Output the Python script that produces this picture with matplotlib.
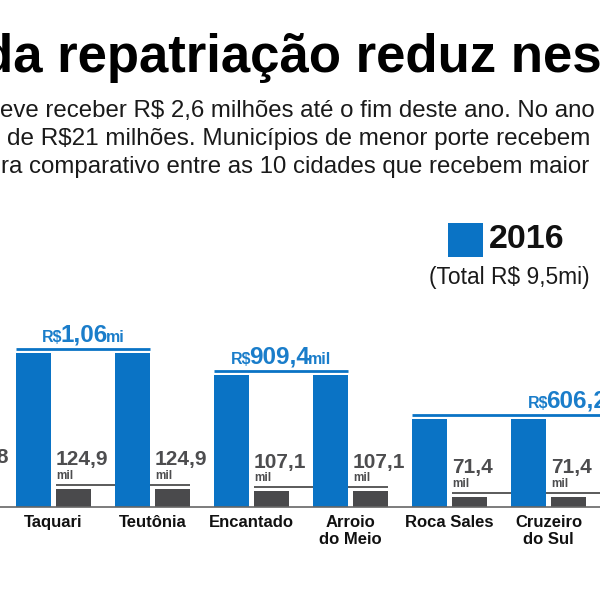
import matplotlib
matplotlib.use("Agg")
import matplotlib.pyplot as plt
from matplotlib.transforms import IdentityTransform
from matplotlib.patches import Rectangle
import numpy as np

plt.rcParams['font.family'] = ['Liberation Sans', 'DejaVu Sans']

# ---------------- data ----------------
cities = ["", "Taquari", "Teutônia", "Encantado", "Arroio\ndo Meio",
          "Roca Sales", "Cruzeiro\ndo Sul", "", ""]
city_pos = [-1, 0, 1, 2, 3, 4, 5, 6, 7]
values_2016 = [1212.0, 1060.0, 1060.0, 909.4, 909.4, 606.2, 606.2, 606.2, 606.2]   # R$ mil
values_2017 = [142.8, 124.9, 124.9, 107.1, 107.1, 71.4, 71.4, 71.4, 71.4]          # R$ mil
value_group = [0, 1, 1, 2, 2, 3, 3, 3, 3]

title_text = "da repatriação reduz nes"
sub_lines = ["eve receber R$ 2,6 milhões até o fim deste ano. No ano",
             "de R$21 milhões. Municípios de menor porte recebem",
             "ra comparativo entre as 10 cidades que recebem maior"]
legend_year = "2016"
legend_total = "(Total R$ 9,5mi)"

BLUE = "#0a73c5"
BLUE_TXT = "#1a7dca"
DARK = "#4a4a4c"
GRAY_TXT = "#4d4d4f"
LINE_GRAY = "#5a5a5a"

W = H = 600
fig = plt.figure(figsize=(6, 6), dpi=100)
ax = fig.add_axes([0, 0, 1, 1])
ax.axis('off')

step = 99.0          # px per city
c0 = 53.5            # px of first visible city centre
base_px = 507.0      # baseline (from top)
k = 0.1455           # px per R$ mil
ax.set_xlim(-c0 / step, (W - c0) / step)
ax.set_ylim(-(H - base_px) / k, base_px / k)

bw = 0.355
off = 0.2
xs = np.array(city_pos, dtype=float)
b16 = np.array(values_2016)
b17 = np.array(values_2017)

ax.bar(xs - off, b16, width=bw, color=BLUE, zorder=3, linewidth=0)
ax.bar(xs + off, b17, width=bw, color=DARK, zorder=3, linewidth=0)
ax.axhline(0, color="#666666", lw=1.2, zorder=4)

R = fig.canvas.get_renderer()
ID = IdentityTransform()


def T(x, y, s, **kw):
    kw.setdefault('va', 'baseline')
    return fig.text(x, H - y, s, transform=ID, **kw)


def d2p(xd, yd):
    X, Y = ax.transData.transform((xd, yd))
    return X, H - Y


def width_of(t):
    return t.get_window_extent(R).width


def fit(x, y, s, target, size0=12, **kw):
    t = T(x, y, s, fontsize=size0, **kw)
    w = width_of(t)
    t.set_fontsize(size0 * target / w)
    return t


def fmt(v):
    if v >= 1000:
        return ("%.2f" % (v / 1000)).replace('.', ','), "mi"
    return ("%.1f" % v).replace('.', ','), "mil"


# group lines & labels
groups = sorted(set(value_group))
for g in groups:
    idx = [i for i, gg in enumerate(value_group) if gg == g]
    i0, i1 = xs[idx[0]], xs[idx[-1]]
    bv = b16[idx[0]]
    gv = b17[idx[0]]
    ly = bv + 4 / k
    ax.plot([i0 - off - bw / 2, i1 - off + bw / 2], [ly, ly], color=BLUE,
            lw=2.0, solid_capstyle='butt', zorder=2)
    gy = gv + 4 / k
    ax.plot([i0 + off - bw / 2, i1 + off + bw / 2], [gy, gy], color=LINE_GRAY,
            lw=1.4, solid_capstyle='butt', zorder=2)
    # composite blue label
    num, unit = fmt(bv)
    xl, yl = d2p(i0 - off - bw / 2, ly)
    xr, _ = d2p(i1 - off + bw / 2, ly)
    cx = (xl + xr) / 2
    by = yl - 7
    parts = [("R$", 11.5), (num, 17.5), (unit, 11.5)]
    ts = [T(0, by, s, fontsize=fs, fontweight='bold', color=BLUE_TXT) for s, fs in parts]
    ws = [width_of(t) for t in ts]
    gap = -2.0
    total = sum(ws) + gap * (len(ws) - 1)
    xcur = cx - total / 2
    for t, w in zip(ts, ws):
        t.set_position((xcur, H - by))
        xcur += w + gap
    # gray labels per city
    for i in idx:
        gnum, gunit = fmt(b17[i])
        gx, gyp = d2p(xs[i] + off - bw / 2, gy)
        T(gx, gyp - 19.5, gnum, fontsize=15, fontweight='bold', color=GRAY_TXT)
        T(gx + 0.5, gyp - 6, gunit, fontsize=8.5, fontweight='bold', color=GRAY_TXT)

# city labels
for xi, name in zip(xs, cities):
    cx, _ = d2p(xi, 0)
    for j, line in enumerate(name.split("\n")):
        if line:
            T(cx, 527 + 16.5 * j, line, fontsize=12, fontweight='bold',
              color='#111111', ha='center')

# title (cropped on both sides, as in the reference)
T(-19, 72, title_text, fontsize=38, fontweight='bold', color='black')

# subtitle lines
sub_geom = [(0.5, 117, 596.5), (7, 145, 586), (1, 173, 591)]
for (x0, y0, wdt), s in zip(sub_geom, sub_lines):
    fit(x0, y0, s, wdt, size0=12, color='#1a1a1a')

# legend
fig.patches.append(Rectangle((448, H - 257), 35, 34, transform=ID,
                             facecolor=BLUE, edgecolor='none'))
fit(489, 248, legend_year, 76, size0=24, fontweight='bold', color='#111111')
fit(429, 284, legend_total, 161, size0=14, color='#1a1a1a')

fig.savefig("out.png", dpi=100, facecolor='white')
